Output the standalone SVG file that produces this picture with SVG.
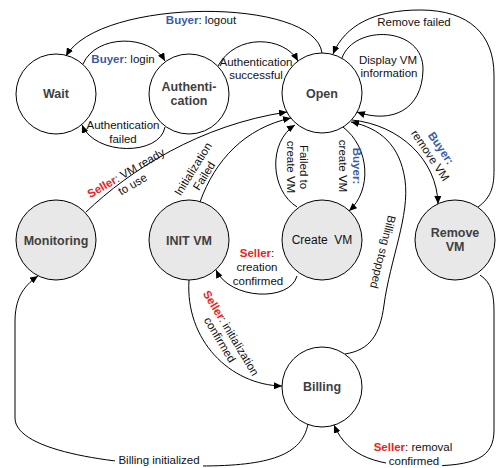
<svg xmlns="http://www.w3.org/2000/svg" width="497" height="468" viewBox="0 0 497 468">
  <style>
    .node { stroke: #000; stroke-width: 1; }
    .plain { fill: #fff; }
    .shaded { fill: #e8e8e8; }
    .name { font-family: "Liberation Sans", Arial, sans-serif; font-size: 12.5px; font-weight: bold; fill: #3f3f3f; text-anchor: middle; }
    .name-reg { font-family: "Liberation Sans", Arial, sans-serif; font-size: 12px; fill: #111; text-anchor: middle; }
    .edge { fill: none; stroke: #000; stroke-width: 1; }
    .arrow { marker-end: url(#head); }
    .lbl { font-family: "Liberation Sans", Arial, sans-serif; font-size: 11.5px; fill: #111; text-anchor: middle; }
    .buyer { fill: #3b5ba8; font-weight: bold; }
    .seller { fill: #ee2020; font-weight: bold; }
  </style>
  <defs>
    <marker id="head" markerWidth="8" markerHeight="7" refX="8" refY="3.5" orient="auto" markerUnits="userSpaceOnUse">
      <path d="M0,0 L8,3.5 L0,7 z" fill="#000"/>
    </marker>
  </defs>

  <rect width="497" height="468" fill="#fff"/>

  <!-- transitions -->
  <g id="connectors">
    <path class="edge arrow" d="M322,53 C315,-3 100,-3 66,56"/>
    <path class="edge arrow" d="M83,64 C96,34 150,34 165,61"/>
    <path class="edge arrow" d="M165,127 C160,156 95,156 82,125"/>
    <path class="edge arrow" d="M218,66 C236,33 284,36 298,61"/>
    <path class="edge arrow" d="M342,58 C354,24 424,26 423,70 C422,110 392,124 357,112"/>
    <path class="edge arrow" d="M478,207 C492,197 494,185 494,170 L494,75 C494,35 470,10 420,10 C375,10 345,25 333,54"/>
    <path class="edge arrow" d="M86,212 C130,170 200,125 287,112"/>
    <path class="edge arrow" d="M200,202 C215,160 245,128 291,118"/>
    <path class="edge arrow" d="M297,207 C270,190 268,142 295,125"/>
    <path class="edge arrow" d="M343,127 C370,148 372,190 349,211"/>
    <path class="edge arrow" d="M352,120 C400,125 437,160 438,204"/>
    <path class="edge arrow" d="M345,354 C370,350 380,335 384,305 C390,260 410,215 405,180 C400,145 380,128 351,122"/>
    <path class="edge arrow" d="M297,276 C290,302 230,300 216,270"/>
    <path class="edge arrow" d="M189,280 C185,340 230,385 282,386"/>
    <path class="edge arrow" d="M308,424 C302,455 270,466 200,466 C120,466 15,452 15,418 L15,322 C15,300 22,287 38,276"/>
    <path class="edge arrow" d="M480,275 C492,283 494,295 494,312 L494,430 C494,458 475,466 425,466 C380,466 348,458 334,425"/>
  </g>

  <!-- transition labels -->
  <g id="labels">
    <text class="lbl" x="201" y="24"><tspan class="buyer">Buyer</tspan>: logout</text>
    <text class="lbl" x="123" y="63"><tspan class="buyer">Buyer</tspan>: login</text>
    <text class="lbl" x="123" y="129">Authentication<tspan x="123" y="143">failed</tspan></text>
    <text class="lbl" x="256" y="66">Authentication<tspan x="256" y="79">successful</tspan></text>
    <text class="lbl" x="388" y="64">Display VM<tspan x="389" y="77">information</tspan></text>
    <text class="lbl" x="414" y="26">Remove failed</text>
    <text class="lbl" transform="translate(126,173) rotate(-30)"><tspan x="0" y="4"><tspan class="seller">Seller</tspan>: VM ready</tspan><tspan x="0" y="17">to use</tspan></text>
    <text class="lbl" transform="translate(193,169) rotate(-58)"><tspan x="0" y="4">Initialization</tspan><tspan x="0" y="17">Failed</tspan></text>
    <text class="lbl" transform="translate(304,167) rotate(90)"><tspan x="0" y="4">Failed to</tspan><tspan x="0" y="17">create  VM</tspan></text>
    <text class="lbl" transform="translate(357,166) rotate(90)"><tspan x="0" y="4" class="buyer">Buyer:</tspan><tspan x="0" y="18">create  VM</tspan></text>
    <text class="lbl" transform="translate(441,148) rotate(56)"><tspan x="0" y="4" class="buyer">Buyer:</tspan><tspan x="0" y="17">remove VM</tspan></text>
    <text class="lbl" transform="translate(383,252) rotate(104)"><tspan x="0" y="4">Billing stopped</tspan></text>
    <text class="lbl" x="257" y="257"><tspan class="seller">Seller</tspan>:<tspan x="257" y="271">creation</tspan><tspan x="258" y="285">confirmed</tspan></text>
    <text class="lbl" transform="translate(231,333) rotate(59)"><tspan x="0" y="4"><tspan class="seller">Seller</tspan>: initialization</tspan><tspan x="0" y="17">confirmed</tspan></text>
    <rect x="115" y="453" width="88" height="15" fill="#fff"/>
    <text class="lbl" x="159" y="464">Billing initialized</text>
    <rect x="386" y="454" width="56" height="14" fill="#fff"/>
    <text class="lbl" x="413" y="451"><tspan class="seller">Seller</tspan>: removal<tspan x="414" y="465">confirmed</tspan></text>
  </g>

  <!-- states -->
  <g id="wait">
    <circle class="node plain" cx="56" cy="94" r="40"/>
    <text class="name" x="56" y="98">Wait</text>
  </g>
  <g id="authentication">
    <circle class="node plain" cx="189" cy="94" r="40"/>
    <text class="name" x="189" y="91">Authenti-<tspan x="189" y="105">cation</tspan></text>
  </g>
  <g id="open">
    <circle class="node plain" cx="322" cy="93" r="40"/>
    <text class="name" x="322" y="98">Open</text>
  </g>
  <g id="monitoring">
    <circle class="node shaded" cx="56" cy="240" r="40"/>
    <text class="name" x="56" y="245">Monitoring</text>
  </g>
  <g id="init-vm">
    <circle class="node shaded" cx="189" cy="240" r="40"/>
    <text class="name" x="189" y="245">INIT VM</text>
  </g>
  <g id="create-vm">
    <circle class="node shaded" cx="322" cy="240" r="40"/>
    <text class="name-reg" x="322" y="244" xml:space="preserve">Create  VM</text>
  </g>
  <g id="remove-vm">
    <circle class="node shaded" cx="455" cy="240" r="40"/>
    <text class="name" x="455" y="237">Remove<tspan x="455" y="251">VM</tspan></text>
  </g>
  <g id="billing">
    <circle class="node plain" cx="322" cy="387" r="40"/>
    <text class="name" x="322" y="391">Billing</text>
  </g>
</svg>
